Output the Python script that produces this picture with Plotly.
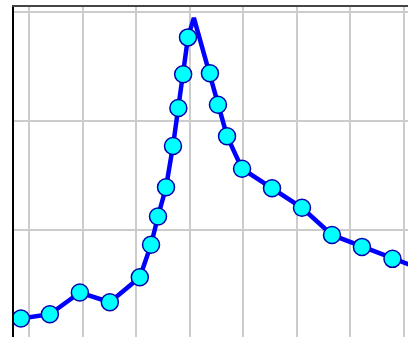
import plotly.graph_objects as go

# values (grid unit = 1 on both axes)
x_vals = [-0.15, 0.39, 0.95, 1.51, 2.07, 2.28, 2.41, 2.56, 2.69, 2.79, 2.88, 2.97,
          3.08, 3.38, 3.53, 3.70, 3.98, 4.54, 5.10, 5.66, 6.22, 6.79, 7.35]
y_vals = [0.18, 0.22, 0.42, 0.33, 0.56, 0.86, 1.12, 1.39, 1.77, 2.12, 2.43, 2.77,
          2.95, 2.44, 2.15, 1.86, 1.56, 1.38, 1.20, 0.95, 0.84, 0.73, 0.63]

# the peak has no marker in the reference
peak = y_vals.index(max(y_vals))
sizes = [0 if i == peak else 17 for i in range(len(y_vals))]

fig = go.Figure()
fig.add_trace(go.Scatter(
    x=x_vals, y=y_vals, mode="lines+markers",
    line=dict(color="#0000ff", width=4.5),
    marker=dict(size=sizes, color="#00ffff", opacity=1,
                line=dict(color="#0000b0", width=1.5)),
    hoverinfo="skip"))

fig.update_layout(
    width=408, height=337,
    margin=dict(l=14, r=0, t=7, b=0),
    paper_bgcolor="white", plot_bgcolor="white",
    showlegend=False)
fig.update_xaxes(range=[-0.28, 7.08], dtick=1, tick0=0, showgrid=True,
                 gridcolor="#cccccc", gridwidth=2, zeroline=False,
                 showticklabels=False, ticks="", side="top",
                 showline=True, linecolor="#444444", linewidth=2)
fig.update_yaxes(range=[0.01, 3.05], dtick=1, tick0=0, showgrid=True,
                 gridcolor="#cccccc", gridwidth=2, zeroline=False,
                 showticklabels=False, ticks="",
                 showline=True, linecolor="black", linewidth=2)

# remove the default page margin so the figure sits at the window corner
fig.write_html("out.html", config={"displayModeBar": False},
               post_script="document.body.style.margin='0';")
